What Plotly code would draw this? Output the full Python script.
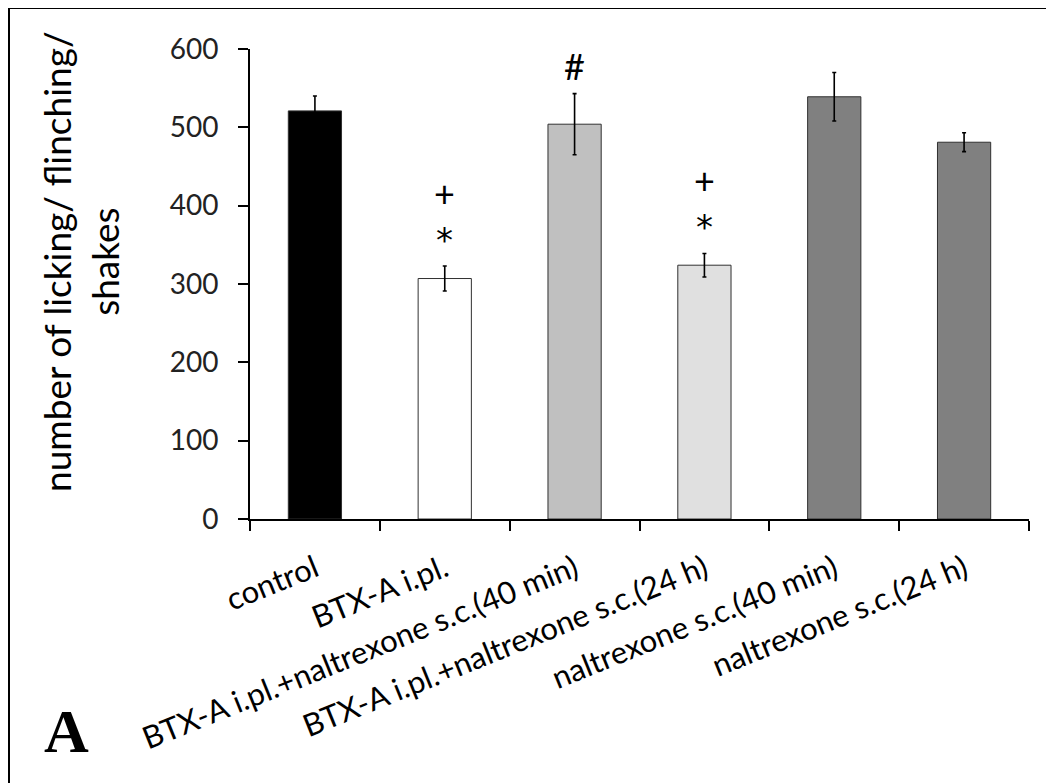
import plotly.graph_objects as go

categories = ["control", "BTX-A i.pl.", "BTX-A i.pl.+naltrexone s.c.(40 min)",
              "BTX-A i.pl.+naltrexone s.c.(24 h)", "naltrexone s.c.(40 min)",
              "naltrexone s.c.(24 h)"]
means = [521, 307, 504, 324, 539, 481]
sem = [19, 16, 39, 15, 31, 12]
colors = ["#000000", "#ffffff", "#c0c0c0", "#e0e0e0", "#808080", "#808080"]
marks = ["", "+*", "#", "+*", "", ""]

# page has an 8px body margin, so figure coords = reference coords - 8
OFF = 8
W, H = 1054 - OFF, 783 - OFF
L, T = 250 - OFF, 49 - OFF
R = W - (1029 - OFF)
B = H - (519 - OFF)
pw, ph = W - L - R, H - T - B

def px(x):
    return (x - OFF - L) / pw

def py(y):
    return (H - B - (y - OFF)) / ph

fig = go.Figure()
fig.add_trace(go.Bar(
    x=categories, y=means,
    marker=dict(color=colors, line=dict(color="#303030", width=1)),
    error_y=dict(type="data", array=sem, visible=True, color="#000000",
                 thickness=1.6, width=2),
    width=0.41,
))

font = "Lato, 'Open Sans', sans-serif"
for c, m, e, t in zip(categories, means, sem, marks):
    if not t:
        continue
    if t == "#":
        fig.add_annotation(x=c, y=m + e, text="#", showarrow=False, yanchor="middle",
                           yshift=28, font=dict(family=font, size=36, color="black"))
    else:
        fig.add_annotation(x=c, y=m + e, text="+", showarrow=False, yanchor="middle",
                           yshift=73, font=dict(family=font, size=36, color="black"))
        fig.add_annotation(x=c, y=m + e, text="*", showarrow=False, yanchor="middle",
                           yshift=26, font=dict(family="'DejaVu Sans', sans-serif", size=34, color="black"))

fig.add_annotation(xref="paper", yref="paper", x=px(80), y=py(262),
                   text="number of licking/ flinching/<br>shakes", textangle=-90,
                   showarrow=False, xanchor="center", yanchor="middle",
                   font=dict(family=font, size=37, color="black"))
fig.add_annotation(xref="paper", yref="paper", x=px(66), y=py(731),
                   text="<b>A</b>", showarrow=False, xanchor="center", yanchor="middle",
                   font=dict(family="'Liberation Serif', 'Times New Roman', serif", size=62, color="black"))

fig.add_shape(type="line", xref="paper", yref="paper", x0=px(8), x1=px(1060), y0=py(8), y1=py(8),
              line=dict(color="black", width=2))
fig.add_shape(type="line", xref="paper", yref="paper", x0=px(9), x1=px(9), y0=py(8), y1=py(790),
              line=dict(color="black", width=2))

fig.update_layout(
    width=W, height=H,
    margin=dict(l=L, r=R, t=T, b=B, autoexpand=False),
    paper_bgcolor="white", plot_bgcolor="white",
    showlegend=False,
)
fig.update_xaxes(
    showline=True, linecolor="black", linewidth=2,
    ticks="outside", tickson="boundaries", ticklen=10, tickwidth=2, tickcolor="black",
    tickangle=-22, tickfont=dict(family=font, size=31, color="black"),
    ticklabelstandoff=18,
    showgrid=False, zeroline=False,
)
fig.update_yaxes(
    range=[0, 600], tickvals=[0, 100, 200, 300, 400, 500, 600],
    showline=True, linecolor="black", linewidth=2,
    ticks="outside", ticklen=10, tickwidth=2, tickcolor="black",
    tickfont=dict(family=font, size=28, color="#222222"),
    ticklabelstandoff=14,
    showgrid=False, zeroline=False,
)

fig.write_html("out.html")
